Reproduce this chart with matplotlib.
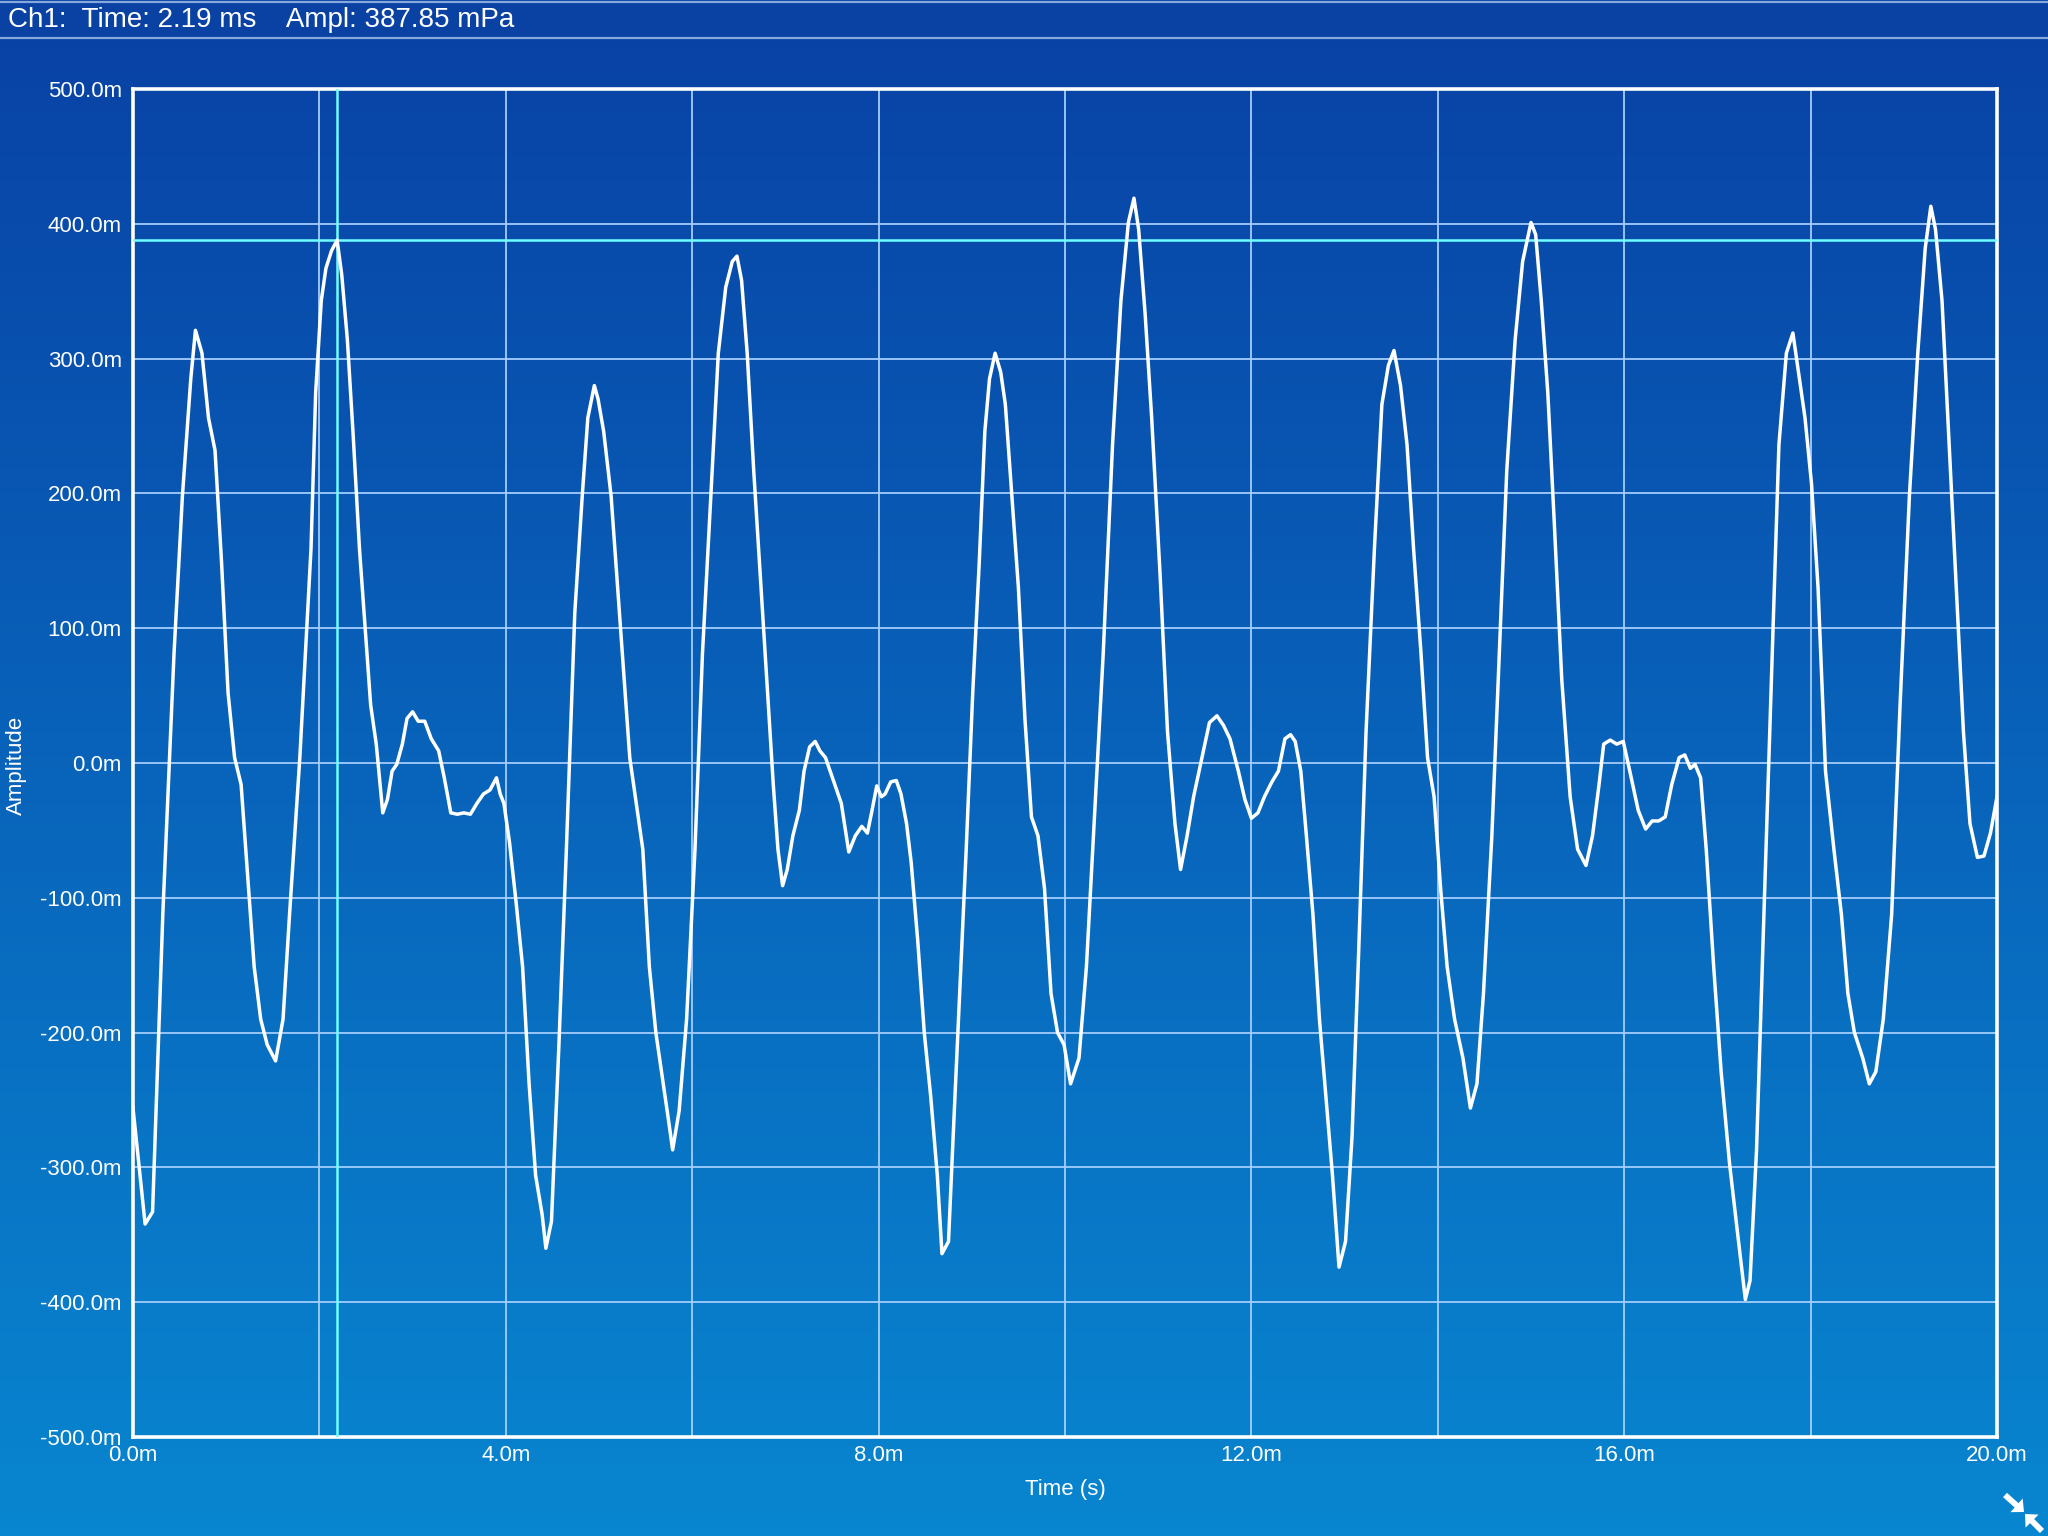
import numpy as np
import matplotlib
matplotlib.use("Agg")
import matplotlib.pyplot as plt
from matplotlib.ticker import MultipleLocator, FuncFormatter
from matplotlib.colors import LinearSegmentedColormap
from matplotlib.patches import Rectangle, FancyArrowPatch
from matplotlib.lines import Line2D

# waveform (time in ms, amplitude in mPa)
time_ms = [
    0.00, 0.13, 0.21, 0.32, 0.44, 0.53, 0.62, 0.67, 0.74, 0.81, 0.88, 0.95,
    1.02, 1.09, 1.16, 1.23, 1.30, 1.37, 1.44, 1.53, 1.61, 1.68, 1.79, 1.91,
    1.96, 2.02, 2.07, 2.13, 2.19, 2.24, 2.30, 2.36, 2.43, 2.50, 2.55, 2.61,
    2.68, 2.73, 2.78, 2.83, 2.89, 2.94, 3.00, 3.06, 3.13, 3.20, 3.28, 3.34,
    3.41, 3.48, 3.55, 3.62, 3.69, 3.76, 3.83, 3.90, 3.94, 3.98, 4.04, 4.11,
    4.18, 4.25, 4.32, 4.39, 4.43, 4.49, 4.57, 4.65, 4.74, 4.82, 4.88, 4.95,
    4.99, 5.05, 5.13, 5.20, 5.27, 5.33, 5.41, 5.47, 5.54, 5.61, 5.69, 5.75,
    5.79, 5.86, 5.94, 6.03, 6.11, 6.20, 6.28, 6.36, 6.43, 6.48, 6.53, 6.59,
    6.66, 6.73, 6.80, 6.87, 6.92, 6.97, 7.02, 7.08, 7.15, 7.20, 7.26, 7.32,
    7.37, 7.43, 7.51, 7.60, 7.68, 7.75, 7.82, 7.88, 7.93, 7.98, 8.03, 8.07,
    8.13, 8.19, 8.24, 8.30, 8.35, 8.42, 8.49, 8.56, 8.63, 8.68, 8.75, 8.80,
    8.87, 8.94, 9.01, 9.08, 9.14, 9.19, 9.25, 9.31, 9.36, 9.43, 9.50, 9.57,
    9.64, 9.71, 9.78, 9.85, 9.92, 9.99, 10.06, 10.15, 10.23, 10.32, 10.41, 10.51,
    10.60, 10.68, 10.74, 10.79, 10.86, 10.93, 11.02, 11.10, 11.18, 11.24, 11.31, 11.38,
    11.47, 11.55, 11.63, 11.70, 11.77, 11.86, 11.93, 12.00, 12.07, 12.14, 12.22, 12.29,
    12.36, 12.42, 12.47, 12.53, 12.59, 12.66, 12.73, 12.80, 12.87, 12.94, 13.01, 13.08,
    13.15, 13.23, 13.32, 13.40, 13.47, 13.53, 13.60, 13.67, 13.74, 13.82, 13.89, 13.96,
    14.03, 14.10, 14.18, 14.27, 14.35, 14.42, 14.49, 14.58, 14.66, 14.74, 14.83, 14.91,
    15.00, 15.05, 15.11, 15.18, 15.25, 15.33, 15.42, 15.50, 15.59, 15.66, 15.73, 15.78,
    15.85, 15.92, 15.99, 16.06, 16.15, 16.23, 16.30, 16.37, 16.44, 16.51, 16.59, 16.65,
    16.71, 16.76, 16.82, 16.88, 16.96, 17.04, 17.13, 17.21, 17.30, 17.35, 17.42, 17.49,
    17.58, 17.66, 17.74, 17.81, 17.87, 17.94, 18.01, 18.08, 18.16, 18.25, 18.33, 18.40,
    18.47, 18.56, 18.63, 18.70, 18.78, 18.87, 18.96, 19.06, 19.15, 19.23, 19.29, 19.34,
    19.41, 19.48, 19.57, 19.64, 19.71, 19.79, 19.86, 19.93, 20.00,
]
ampl_mpa = [
    -256, -342, -333, -112, 81, 198, 285, 321, 304, 256, 232, 149,
    52, 4, -16, -83, -151, -190, -209, -221, -190, -112, 4, 159,
    275, 343, 367, 380, 387.85, 362, 314, 246, 159, 91, 43, 14,
    -37, -27, -6, -1, 14, 33, 38, 31, 31, 18, 9, -11,
    -37, -38, -37, -38, -30, -23, -20, -11, -23, -30, -59, -103,
    -151, -238, -306, -335, -360, -340, -209, -64, 111, 198, 256, 280,
    270, 246, 198, 130, 62, 4, -35, -64, -151, -200, -238, -267,
    -287, -258, -190, -64, 81, 198, 304, 353, 372, 376, 358, 304,
    217, 140, 62, -16, -64, -91, -79, -54, -35, -6, 12, 16,
    9, 4, -12, -30, -66, -54, -47, -52, -35, -17, -25, -23,
    -14, -13, -23, -45, -74, -132, -200, -248, -306, -364, -355, -277,
    -171, -64, 52, 149, 246, 285, 304, 290, 266, 198, 130, 33,
    -40, -54, -93, -171, -200, -209, -238, -219, -151, -35, 81, 236,
    343, 401, 419, 396, 333, 256, 140, 23, -45, -79, -54, -25,
    4, 30, 35, 28, 18, -6, -27, -41, -37, -25, -14, -6,
    18, 21, 16, -6, -54, -112, -190, -248, -306, -374, -355, -277,
    -142, 23, 159, 266, 295, 306, 280, 236, 159, 81, 4, -25,
    -93, -151, -190, -219, -256, -238, -171, -54, 81, 217, 314, 372,
    401, 392, 343, 275, 178, 62, -25, -64, -76, -54, -16, 14,
    17, 14, 16, -6, -35, -49, -43, -43, -40, -16, 4, 6,
    -4, -1, -11, -64, -151, -229, -297, -345, -398, -384, -287, -132,
    62, 236, 304, 319, 290, 256, 207, 130, -6, -64, -112, -171,
    -200, -219, -238, -229, -190, -112, 43, 198, 304, 382, 413, 396,
    343, 246, 120, 23, -45, -70, -69, -52, -25,
]

cursor_t = 2.19
cursor_a = 387.85
header_text = "Ch1:  Time: 2.19 ms    Ampl: 387.85 mPa"
x_label = "Time (s)"
y_label = "Amplitude"

W, H = 2048, 1536
plt.rcParams["font.family"] = ["Liberation Sans", "DejaVu Sans"]
fig = plt.figure(figsize=(W / 100, H / 100), dpi=100)

# gradient background over the whole figure
bg = fig.add_axes([0, 0, 1, 1], zorder=-10)
grad = np.linspace(0, 1, 256).reshape(-1, 1)
cmap = LinearSegmentedColormap.from_list("scope", ["#0841a4", "#0986d0"])
bg.imshow(grad, aspect="auto", cmap=cmap, extent=[0, 1, 0, 1], origin="upper")
bg.axis("off")

# header bar
fig.add_artist(Rectangle((0, 1 - 38 / H), 1, 38 / H, transform=fig.transFigure,
                         facecolor="#0a42a4", edgecolor="none", zorder=1))
for yy in (1 - 1.5 / H, 1 - 38 / H):
    fig.add_artist(Line2D([0, 1], [yy, yy], transform=fig.transFigure,
                          color="#86a8dc", lw=1.6, zorder=2))
fig.text(8 / W, 1 - 20 / H, header_text, color="white", fontsize=20,
         va="center", ha="left", zorder=3)

ax = fig.add_axes([133 / W, 1 - 1437 / H, (1997 - 133) / W, (1437 - 89) / H])
ax.set_facecolor("none")

ax.plot(time_ms, ampl_mpa, color="white", lw=2.5, zorder=4)
ax.axvline(cursor_t, color="#70ffff", lw=1.8, zorder=3)
ax.axhline(cursor_a, color="#70ffff", lw=1.8, zorder=3)

ax.set_xlim(0, 20)
ax.set_ylim(-500, 500)
ax.xaxis.set_major_locator(MultipleLocator(4))
ax.xaxis.set_minor_locator(MultipleLocator(2))
ax.yaxis.set_major_locator(MultipleLocator(100))
fmt = FuncFormatter(lambda v, p: f"{v + 0.0:.1f}m")
ax.xaxis.set_major_formatter(fmt)
ax.yaxis.set_major_formatter(fmt)
ax.grid(which="both", color="#a8d0ff", lw=1.4, alpha=0.9, zorder=2)
ax.set_axisbelow(True)

ax.tick_params(which="both", length=0, colors="white", labelsize=16)
ax.tick_params(axis="x", pad=6)
ax.tick_params(axis="y", pad=8)
for s in ax.spines.values():
    s.set_color("white")
    s.set_linewidth(2.6)

ax.set_xlabel(x_label, color="white", fontsize=16, labelpad=9)
fig.text(16 / W, 1 - 765 / H, y_label, color="white", fontsize=16,
         rotation=90, ha="center", va="center")

# collapse icon in the corner
for a, b in (((2005, 1495), (2024, 1512)), ((2042, 1531), (2025, 1514))):
    fig.add_artist(FancyArrowPatch((a[0] / W, 1 - a[1] / H), (b[0] / W, 1 - b[1] / H),
                                   transform=fig.transFigure,
                                   arrowstyle="simple,head_length=0.6,head_width=1.1,tail_width=0.35",
                                   mutation_scale=12, lw=0, color="white",
                                   shrinkA=0, shrinkB=0))

fig.savefig("out.png", dpi=100)
